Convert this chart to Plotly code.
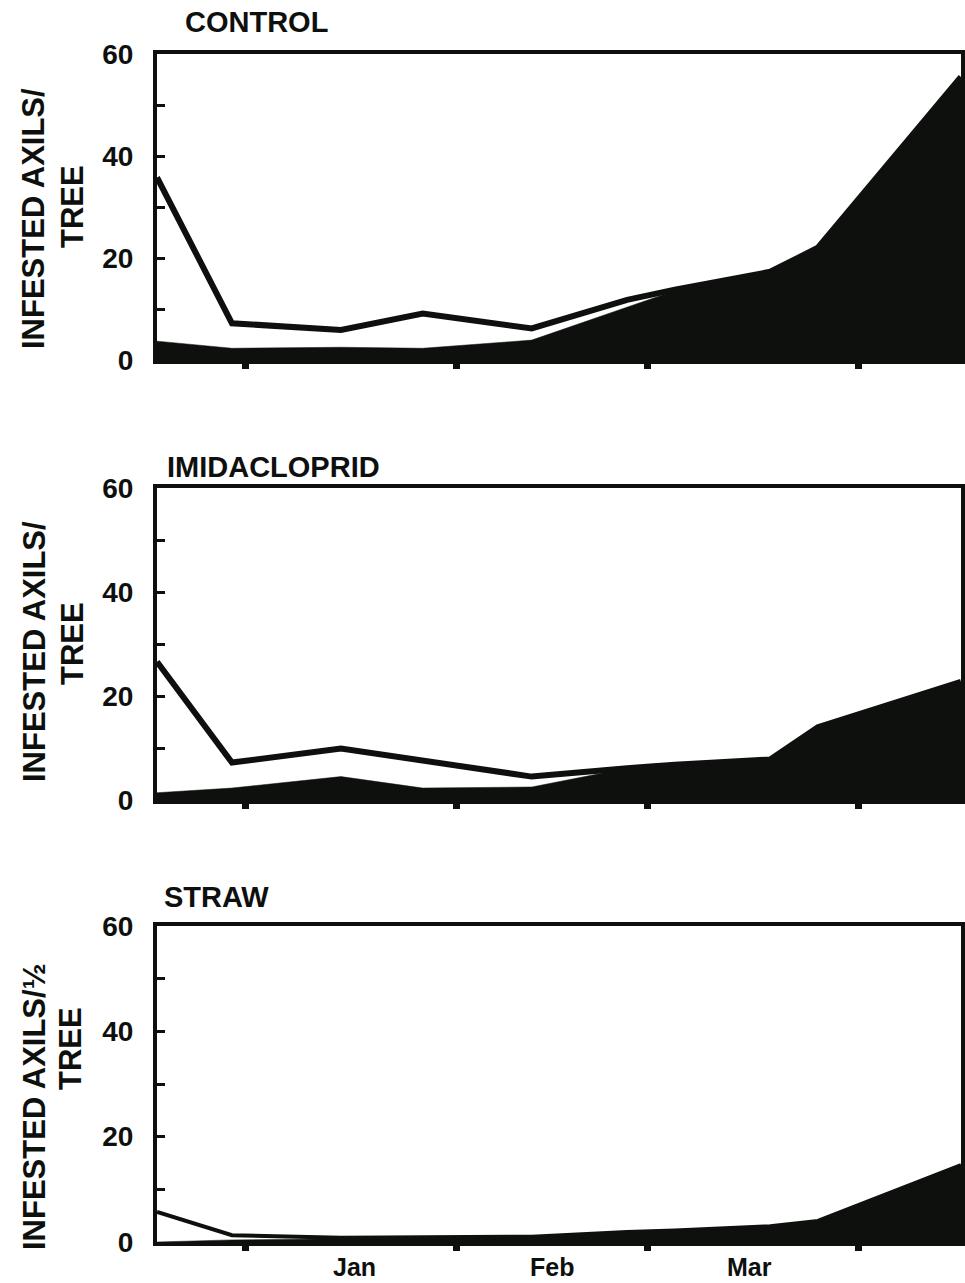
import plotly.graph_objects as go

# Sampling dates (one season, Dec to mid-April)
dates = ["1998-12-19", "1998-12-30", "1999-01-15", "1999-01-27", "1999-02-12",
         "1999-02-26", "1999-03-05", "1999-03-19", "1999-03-26", "1999-04-16"]

# Infested axils per tree: total (line) and filled component (black area)
control_total = [35.8, 7.2, 5.9, 9.1, 6.2, 11.8, 13.8, 17.3, 22.0, 55.5]
control_fill = [3.7, 2.3, 2.5, 2.3, 3.9, 10.3, 13.6, 17.3, 22.0, 55.5]

imid_total = [26.6, 7.2, 9.9, 7.5, 4.5, 6.1, 6.8, 7.8, 14.0, 22.7]
imid_fill = [1.4, 2.3, 4.5, 2.3, 2.5, 6.1, 6.8, 7.8, 14.0, 22.7]

straw_total = [5.7, 1.3, 0.8, 0.9, 1.0, 1.9, 2.2, 3.0, 4.0, 14.6]
straw_fill = [0.0, 0.4, 0.6, 0.7, 0.9, 1.8, 2.1, 2.9, 3.8, 14.6]

panel_titles = ["CONTROL", "IMIDACLOPRID", "STRAW"]
ytitle_line1 = ["INFESTED AXILS/", "INFESTED AXILS/", "INFESTED AXILS/½"]
ytitle_line2 = ["TREE", "TREE", "TREE"]

month_ticks = ["1999-01-01", "1999-02-01", "1999-03-01", "1999-04-01"]
month_label_pos = ["1999-01-17", "1999-02-15", "1999-03-16"]
month_labels = ["Jan", "Feb", "Mar"]

y_ticks = [0, 10, 20, 30, 40, 50, 60]
y_ticktext = ["0", "", "20", "", "40", "", "60"]

W, H = 965, 1283
INK = "#0e100e"
FONT = "Liberation Sans"

# Plot-area pixel boxes (top, bottom) for each panel
x_left, x_right = 157, 961
panel_px = [(54, 360), (488, 800), (926, 1242)]
line_widths = [6, 6, 4]

series = [(control_total, control_fill), (imid_total, imid_fill), (straw_total, straw_fill)]

fig = go.Figure()

for i, (total, fill) in enumerate(series):
    n = "" if i == 0 else str(i + 1)
    fig.add_trace(go.Scatter(
        x=dates, y=fill, mode="lines", fill="tozeroy",
        line=dict(color=INK, width=0.5), fillcolor=INK,
        xaxis="x" + n, yaxis="y" + n, showlegend=False, hoverinfo="skip"))
    fig.add_trace(go.Scatter(
        x=dates, y=total, mode="lines",
        line=dict(color=INK, width=line_widths[i]),
        xaxis="x" + n, yaxis="y" + n, showlegend=False))

layout = dict(
    width=W, height=H,
    template="none",
    margin=dict(l=0, r=0, t=0, b=0, pad=0, autoexpand=False),
    paper_bgcolor="white", plot_bgcolor="white",
    font=dict(family=FONT, color=INK),
    annotations=[],
)

xdom = [x_left / W, x_right / W]
for i, (top, bot) in enumerate(panel_px):
    n = "" if i == 0 else str(i + 1)
    layout["xaxis" + n] = dict(
        type="date", domain=xdom, range=[dates[0], dates[-1]],
        anchor="y" + n, automargin=False,
        tickvals=month_ticks, showticklabels=False,
        ticks="outside", ticklen=5, tickwidth=7, tickcolor=INK,
        showline=True, linecolor=INK, linewidth=4, mirror=True,
        showgrid=False, zeroline=False)
    layout["yaxis" + n] = dict(
        domain=[1 - bot / H, 1 - top / H], range=[0, 60],
        anchor="x" + n, automargin=False,
        tickvals=y_ticks, ticktext=y_ticktext,
        ticks="inside", ticklen=8, tickwidth=3, tickcolor=INK,
        tickfont=dict(family=FONT, size=28, weight="bold", color=INK),
        ticklabelstandoff=14,
        showline=True, linecolor=INK, linewidth=4, mirror=True,
        showgrid=False, zeroline=False)

# Panel titles
title_pos = [(183, 22), (165, 467), (162, 897)]
for (tx, ty), t in zip(title_pos, panel_titles):
    layout["annotations"].append(dict(
        text=t, xref="paper", yref="paper", x=tx / W, y=1 - ty / H,
        xanchor="left", yanchor="middle", showarrow=False,
        font=dict(family=FONT, size=29, weight="bold", color=INK)))

# Y-axis titles, two lines each
ytitle_pos = [((34, 219), (72, 207)), ((34, 652), (72, 644)), ((34, 1107), (70, 1049))]
for ((x1, y1), (x2, y2)), t1, t2 in zip(ytitle_pos, ytitle_line1, ytitle_line2):
    for (tx, ty), t in (((x1, y1), t1), ((x2, y2), t2)):
        layout["annotations"].append(dict(
            text=t, xref="paper", yref="paper", x=tx / W, y=1 - ty / H,
            xanchor="center", yanchor="middle", textangle=-90, showarrow=False,
            font=dict(family=FONT, size=31, weight="bold", color=INK)))

# Month labels below the bottom panel
for d, m in zip(month_label_pos, month_labels):
    layout["annotations"].append(dict(
        text=m, xref="x3", yref="paper", x=d, y=1 - 1267 / H,
        xanchor="center", yanchor="middle", showarrow=False,
        font=dict(family=FONT, size=25, weight="bold", color=INK)))

fig.update_layout(**layout)
fig.write_html("out.html")
